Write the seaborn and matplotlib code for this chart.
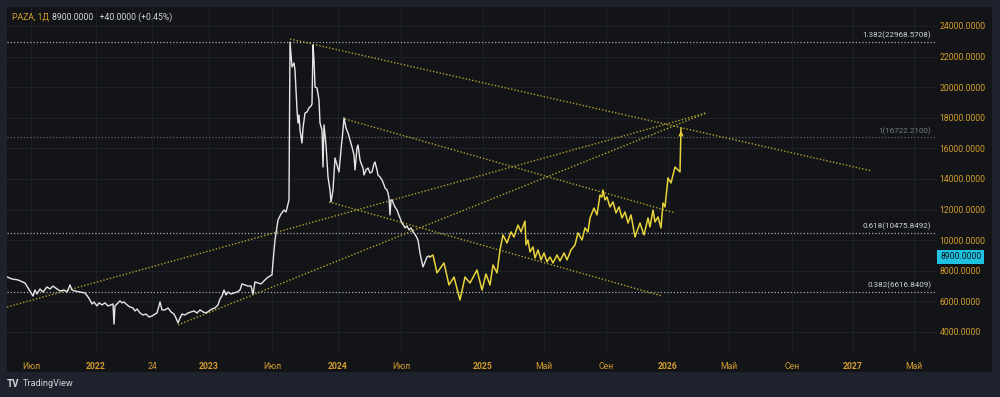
"""
PAZA, 1D - price history with a hand drawn projection path,
trend lines and fibonacci levels (TradingView style, dark theme).
"""

import numpy as np
import pandas as pd
import matplotlib.pyplot as plt
import seaborn as sns
from matplotlib.patches import Rectangle
from matplotlib.transforms import blended_transform_factory

# ---- data ---------------------------------------------------------------
# bar position on the time axis, price
hist_bar = [7, 12, 18, 25, 28, 31, 33, 35, 37, 40, 43, 47, 50, 53, 57, 60, 64, 67, 70, 72,
            75, 80, 85, 88, 90, 92, 94, 97, 99, 102, 105, 108, 111, 113, 114, 115, 117, 120,
            122, 124, 127, 130, 133, 135, 137, 140, 143, 146, 149, 152, 155, 157, 160, 162,
            165, 168, 171, 174, 176, 178, 180, 182, 185, 188, 191, 194, 197, 200, 203, 206,
            209, 212, 215, 218, 220, 222, 224, 226, 228, 231, 234, 237, 240, 242, 245, 248,
            251, 253, 255, 258, 261, 264, 267, 270, 272, 273, 275, 278, 281, 284, 286, 289,
            290, 292, 294, 295, 296, 297, 298, 299, 300, 302, 303, 305, 307, 309, 311, 312,
            313, 314, 315, 317, 319, 320, 322, 323, 324, 326, 328, 330, 331, 333, 335, 337,
            339, 341, 343, 344, 346, 348, 350, 352, 354, 355, 357, 358, 360, 361, 363, 364,
            366, 368, 370, 372, 374, 375, 377, 378, 380, 382, 384, 385, 387, 388, 389, 390,
            391, 392, 394, 395, 397, 398, 400, 402, 404, 405, 407, 409, 411, 413, 414, 416,
            418, 420, 421, 423, 425, 427, 429, 430]
hist_price = [7600, 7460, 7400, 7200, 6880, 6550, 6350, 6740, 6480, 6810, 6610, 6940, 6810,
              7000, 6810, 6680, 6740, 6610, 7070, 6740, 6680, 6610, 6550, 6290, 6090, 5830,
              5960, 5700, 5900, 5770, 5900, 5700, 5770, 5830, 4520, 5700, 5830, 6030, 5900,
              5960, 5770, 5630, 5570, 5370, 5500, 5240, 5110, 5170, 4980, 5040, 5170, 5240,
              5960, 5440, 5440, 5570, 5310, 5170, 4910, 4590, 4910, 5170, 5110, 5240, 5310,
              5370, 5240, 5440, 5310, 5240, 5370, 5500, 5570, 5770, 6160, 6350, 6740, 6420,
              6610, 6480, 6550, 6610, 6740, 7140, 7070, 7000, 7000, 6480, 7270, 7200, 7140,
              7330, 7530, 7660, 7730, 8580, 10010, 11320, 11710, 11970, 11840, 12620,
              22950, 21320, 21580, 21120, 19820, 18510, 17660, 18180, 17200, 16350, 17330,
              18310, 18380, 18640, 18770, 18900, 22760, 21780, 20010, 19950, 19160, 17660,
              17200, 14780, 17530, 16220, 14130, 13280, 12500, 13280, 15370, 14910, 14460,
              15900, 17200, 17990, 17330, 17010, 16550, 16090, 15570, 14590, 16030, 16220,
              15240, 15040, 14720, 14260, 14590, 14720, 14390, 14460, 14980, 15110, 14590,
              14260, 14130, 13930, 13610, 13410, 13280, 13080, 12760, 11650, 12630, 12630,
              12300, 12170, 11970, 11780, 11450, 11120, 10930, 10800, 10930, 10670, 10800,
              10540, 10470, 10270, 10010, 9160, 8840, 8250, 8580, 8900, 8970, 8900]

path_bar = [430, 433, 437, 444, 449, 454, 460, 465, 470, 477, 482, 486, 490, 493, 497, 500,
            503, 507, 511, 514, 518, 521, 525, 526, 528, 530, 533, 535, 538, 541, 544, 547,
            550, 553, 557, 560, 564, 567, 571, 575, 578, 582, 585, 588, 590, 594, 597, 600,
            602, 603, 605, 607, 610, 613, 616, 619, 622, 625, 628, 631, 635, 640, 644, 648,
            650, 653, 655, 658, 661, 663, 665, 668, 671, 675, 680, 681]
path_price = [8900, 9030, 7860, 8510, 7070, 7590, 6090, 7590, 7200, 8050, 6740, 7790, 7070,
              8380, 7860, 9360, 10340, 9820, 10540, 10210, 10990, 10540, 11250, 9690, 10010,
              9230, 9560, 8840, 9360, 8710, 9160, 8580, 8900, 8510, 9030, 8640, 9160, 8710,
              9360, 9690, 10470, 10010, 10800, 10540, 11450, 12100, 11650, 12950, 12820,
              13280, 12630, 12820, 12170, 12500, 11780, 12170, 11450, 11840, 11120, 11650,
              10210, 11120, 10340, 11450, 10860, 11970, 11190, 11520, 10800, 12430, 12170,
              14070, 13740, 14780, 14460, 17330]

trend_start_bar = [290, 345, 329, 7, 178]
trend_start_price = [23150, 17920, 12500, 5630, 4460]
trend_end_bar = [872, 675, 662, 706, 706]
trend_end_price = [14520, 11780, 6350, 18310, 18310]

fib_ratio = ["1.382", "1", "0.618", "0.382"]
fib_price = [22968.5708, 16722.2100, 10475.8492, 6616.8409]

price_ticks = list(range(4000, 24001, 2000))
time_tick_bar = [31, 96, 152, 209, 272, 338, 401, 483, 544, 606, 668, 729, 792, 853, 914]
time_tick_labels = ["Июл", "2022", "24", "2023", "Июл", "2024", "Июл", "2025",
                    "Май", "Сен", "2026", "Май", "Сен", "2027", "Май"]

ticker = "PAZA, 1Д"
last_price = 8900.0
change = 40.0
change_pct = 0.45

# ---- style --------------------------------------------------------------
OUTER = "#1e222d"
PANEL = "#121418"
GRID = "#1d2027"
GOLD = "#d49d2c"
TEXT = "#d1d4dc"
WHITE_LINE = "#e6e6e6"
PATH_YELLOW = "#e8d43a"
TREND_YELLOW = "#b3a42c"
CYAN = "#1fc1e0"

sns.set_theme(style="dark")
plt.rcParams["font.family"] = ["Roboto", "DejaVu Sans"]

W, H = 1000, 397
fig = plt.figure(figsize=(W / 100, H / 100), dpi=100, facecolor=OUTER)

# dark chart panel behind plot and axis labels
fig.patches.append(Rectangle((7 / W, 1 - 372 / H), 985 / W, 365 / H,
                             transform=fig.transFigure, fc=PANEL, ec="none", zorder=-5))

ax = fig.add_axes([7 / W, 1 - 352 / H, 930 / W, 345 / H])
ax.set_zorder(2)
ax.set_facecolor(PANEL)

hist = pd.DataFrame({"bar": hist_bar, "price": hist_price})
path = pd.DataFrame({"bar": path_bar, "price": path_price})

# fibonacci levels
tr = blended_transform_factory(ax.transAxes, ax.transData)
for ratio, level in zip(fib_ratio, fib_price):
    col = "#5f626b" if ratio == "1" else "#a7aab2"
    ax.axhline(level, color=col, lw=0.9, ls=(0, (1, 1.6)), zorder=2)
    ax.annotate(f"{ratio}({level:.4f})", xy=(1, level), xycoords=tr,
                xytext=(-4, 2), textcoords="offset points", ha="right", va="bottom",
                fontsize=5.8, color="#787b86" if ratio == "1" else TEXT)

# trend lines
for x0, y0, x1, y1 in zip(trend_start_bar, trend_start_price, trend_end_bar, trend_end_price):
    sns.lineplot(x=[x0, x1], y=[y0, y1], ax=ax, color=TREND_YELLOW, lw=1.0,
                 linestyle=(0, (1, 1.4)), estimator=None, sort=False, zorder=3)

# price history and projection path
sns.lineplot(data=hist, x="bar", y="price", ax=ax, color=WHITE_LINE, lw=1.0,
             estimator=None, sort=False, zorder=4)
sns.lineplot(data=path, x="bar", y="price", ax=ax, color=PATH_YELLOW, lw=1.1,
             estimator=None, sort=False, zorder=5)
ax.annotate("", xy=(path_bar[-1], path_price[-1]), xytext=(path_bar[-1], path_price[-1] - 600),
            arrowprops=dict(arrowstyle="->", color=PATH_YELLOW, lw=1.1,
                            mutation_scale=6), zorder=6)

# axes
ax.set_xlim(7, 937)
ax.set_ylim(2690, 25240)
ax.set_xlabel("")
ax.set_ylabel("")
ax.set_xticks(time_tick_bar)
ax.set_xticklabels(time_tick_labels)
for lab in ax.get_xticklabels():
    if lab.get_text().isdigit() and len(lab.get_text()) == 4:
        lab.set_fontweight("bold")
ax.set_yticks(price_ticks)
ax.set_yticklabels([f"{p:.4f}" for p in price_ticks])
ax.yaxis.tick_right()
ax.tick_params(axis="y", length=0, pad=2, labelsize=6.2, labelcolor=GOLD)
ax.tick_params(axis="x", length=4, color=GRID, pad=3, labelsize=6.2, labelcolor=GOLD)
ax.grid(True, color=GRID, lw=0.8)
for s in ax.spines.values():
    s.set_visible(False)

# last price tag
ax.annotate(f"{last_price:.4f}", xy=(1, last_price), xycoords=tr, xytext=(2.2, 0),
            textcoords="offset points", ha="left", va="center", fontsize=6.2,
            color="#10131a", annotation_clip=False,
            bbox=dict(boxstyle="square,pad=0.3", fc=CYAN, ec="none"))

# header
fig.text(12 / W, 1 - 17 / H, ticker, color=GOLD, fontsize=6.2, va="center", zorder=5)
fig.text(52 / W, 1 - 17 / H, f"{last_price:.4f}   +{change:.4f} (+{change_pct:.2f}%)",
         color=TEXT, fontsize=6.2, va="center", zorder=5)

# TradingView logo
fig.text(7 / W, 1 - 384 / H, "TV", color=TEXT, fontsize=7, fontweight="bold", va="center")
fig.text(23 / W, 1 - 384 / H, "TradingView", color=TEXT, fontsize=6.6, va="center")

fig.savefig("out.png", dpi=100, facecolor=OUTER)
